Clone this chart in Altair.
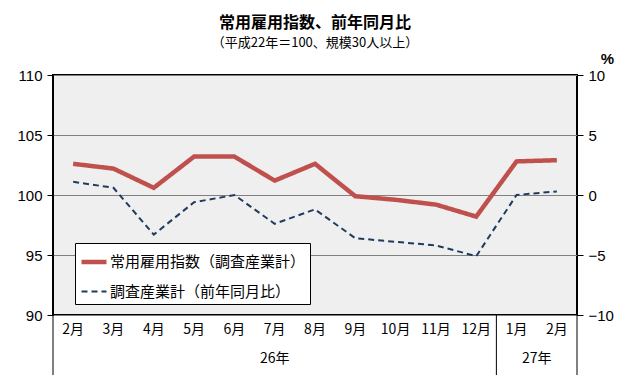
import altair as alt
import pandas as pd

months = ["2月", "3月", "4月", "5月", "6月", "7月", "8月", "9月", "10月", "11月", "12月", "1月", "2月"]
years = ["26年"] * 11 + ["27年"] * 2
index_values = [102.6, 102.2, 100.6, 103.2, 103.2, 101.2, 102.6, 99.9, 99.6, 99.2, 98.2, 102.8, 102.9]
yoy_values = [1.1, 0.6, -3.3, -0.6, 0.0, -2.4, -1.2, -3.6, -3.9, -4.2, -5.1, 0.0, 0.3]
series_names = ["常用雇用指数（調査産業計）", "調査産業計（前年同月比）"]
year_labels = ["26年", "27年"]

keys = [f"{y}{m}" for y, m in zip(years, months)]

W, H = 524, 240
JP = "Noto Sans CJK JP"
NUM = "Liberation Sans"
RED = "#c0504d"
NAVY = "#1f3c5e"

df = pd.DataFrame({"key": keys, "month": months, "year": years})
long_rows = []
for k, a, b in zip(keys, index_values, yoy_values):
    long_rows.append({"key": k, "series": series_names[0], "value": a})
    long_rows.append({"key": k, "series": series_names[1], "value": b})
ldf = pd.DataFrame(long_rows)

xscale = alt.Scale(type="band", domain=keys, paddingInner=0, paddingOuter=0)


def xenc(band=0.5, axis=None):
    return alt.X("key:N", scale=xscale, axis=axis, bandPosition=band)


x_axis = alt.Axis(labels=False, title=None, domain=False, ticks=True, tickBand="extent",
                  tickSize=30, tickColor="black", tickWidth=1, grid=False)

color = alt.Color("series:N", scale=alt.Scale(domain=series_names, range=[RED, NAVY]),
                  legend=alt.Legend(title=None, orient="none", legendX=22, legendY=168,
                                    fillColor="white", strokeColor="black", padding=4,
                                    symbolType="stroke", symbolSize=625, labelFont=JP,
                                    labelFontSize=15, labelColor="black", rowPadding=7,
                                    labelOffset=1, labelLimit=400))
dash = alt.StrokeDash("series:N", scale=alt.Scale(domain=series_names, range=[[1, 0], [6, 4]]),
                      legend=alt.Legend(title=None))
swidth = alt.StrokeWidth("series:N", scale=alt.Scale(domain=series_names, range=[4.5, 2]),
                         legend=alt.Legend(title=None))

base = alt.Chart(ldf)

left_axis = alt.Axis(orient="left", values=[90, 95, 100, 105, 110], grid=True, gridColor="#808080",
                     gridWidth=1, domain=False, tickSize=6, tickColor="black", labelFont=NUM,
                     labelFontSize=15, labelColor="black", labelPadding=5, title=None)
right_axis = alt.Axis(orient="right", values=[-10, -5, 0, 5, 10], grid=False, domain=False,
                      tickSize=6, tickColor="black", labelFont=NUM, labelFontSize=15,
                      labelColor="black", labelPadding=5, title="%", titleAngle=0,
                      titleX=30, titleY=-17, titleAlign="center", titleBaseline="middle",
                      titleFont=NUM, titleFontSize=15, titleFontWeight="bold", titleColor="black")

red_line = base.transform_filter(alt.datum.series == series_names[0]).mark_line().encode(
    x=xenc(0.5, x_axis),
    y=alt.Y("value:Q", scale=alt.Scale(domain=[90, 110]), axis=left_axis),
    color=color, strokeDash=dash, strokeWidth=swidth,
)
navy_line = base.transform_filter(alt.datum.series == series_names[1]).mark_line().encode(
    x=xenc(0.5),
    y=alt.Y("value:Q", scale=alt.Scale(domain=[-10, 10]), axis=right_axis),
    color=color, strokeDash=dash, strokeWidth=swidth,
)

month_text = alt.Chart(df).mark_text(font=JP, fontSize=14, color="black", baseline="middle").encode(
    x=xenc(0.5), y=alt.value(H + 15), text="month:N")

year26 = alt.Chart(df).transform_filter(alt.datum.key == keys[5]).mark_text(
    font=JP, fontSize=14, color="black", baseline="middle").encode(
    x=xenc(0.5), y=alt.value(H + 44), text=alt.value(year_labels[0]))
year27 = alt.Chart(df).transform_filter(alt.datum.key == keys[11]).mark_text(
    font=JP, fontSize=14, color="black", baseline="middle").encode(
    x=xenc(1.0), y=alt.value(H + 44), text=alt.value(year_labels[1]))

long_left = alt.Chart(df).transform_filter(
    (alt.datum.key == keys[0]) | (alt.datum.key == keys[11])).mark_rule(color="black", strokeWidth=1).encode(
    x=xenc(0.0), y=alt.value(H), y2=alt.value(H + 60))
long_right = alt.Chart(df).transform_filter(alt.datum.key == keys[12]).mark_rule(
    color="black", strokeWidth=1).encode(x=xenc(1.0), y=alt.value(H), y2=alt.value(H + 60))

chart = alt.layer(red_line, navy_line, month_text, year26, year27, long_left, long_right).resolve_scale(
    y="independent"
).properties(
    width=W, height=H,
    padding={"left": 45, "top": 67, "right": 45, "bottom": 62},
    autosize=alt.AutoSizeParams(type="none"),
    title=alt.Title(text="常用雇用指数、前年同月比", subtitle="（平成22年＝100、規模30人以上）",
                    font=JP, fontSize=16, fontWeight="bold", color="black",
                    subtitleFont=JP, subtitleFontSize=13, subtitleColor="black",
                    anchor="middle", frame="group", offset=1, subtitlePadding=6),
).configure_view(fill="#efefef", stroke="black", strokeWidth=2)

chart.save("out.html", embed_options={"renderer": "svg", "actions": False})
